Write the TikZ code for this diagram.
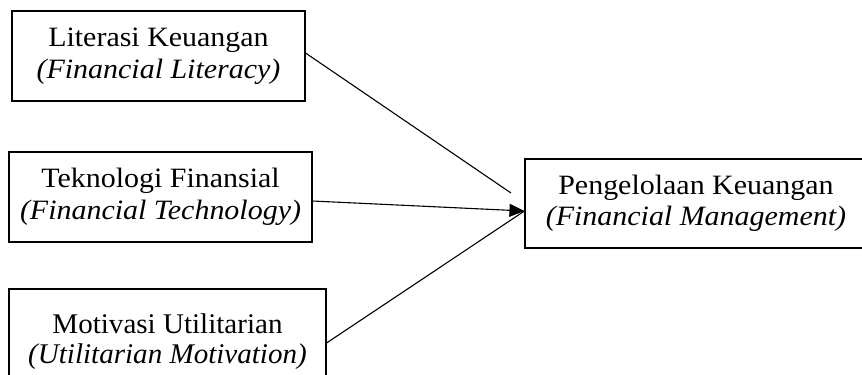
\documentclass[tikz,border=0pt]{standalone}
\usepackage{fontspec}
\usepackage{tikz}
\usetikzlibrary{positioning}
\usetikzlibrary{arrows.meta}
\newfontfamily\cambria[FakeStretch=1.07]{Liberation Serif}
\newfontfamily\timesfont[FakeStretch=1.02]{Liberation Serif}

\begin{document}
\begin{tikzpicture}[x=1bp, y=-1bp, >={Triangle[length=15bp,width=13bp]},
varbox/.style={draw, line width=1.1bp, align=center, inner sep=0pt, font=\cambria\fontsize{28bp}{31.5bp}\selectfont},
link/.style={line width=1.1bp}]
% frame
\clip (0,0) rectangle (862,374);

% variables
\node [varbox, minimum width=293bp, minimum height=90bp] (literasi) at (158.5,56) {Literasi Keuangan\\ \textit{(Financial Literacy)}};
\node [varbox, minimum width=303bp, minimum height=90bp] (teknologi) at (160.5,197) {Teknologi Finansial\\ \textit{(Financial Technology)}};
\node [varbox, minimum width=317bp, minimum height=106bp, font=\timesfont\fontsize{28.5bp}{30bp}\selectfont] (motivasi) at (167.5,342) {Motivasi Utilitarian\\ \textit{(Utilitarian Motivation)}};
\node [varbox, minimum width=342bp, minimum height=89bp] (pengelolaan) at (696,203.5) {Pengelolaan Keuangan\\ \textit{(Financial Management)}};

% links
\coordinate (lit-end) at (511,193);
\draw [link] ([yshift=3bp]literasi.east) -- (lit-end);
\draw [link,->] ([yshift=-4bp]teknologi.east) -- ([yshift=-7.5bp]pengelolaan.west);
\draw [link] ([yshift=-1bp]motivasi.east) -- ([yshift=-7.5bp]pengelolaan.west);
\end{tikzpicture}
\end{document}
